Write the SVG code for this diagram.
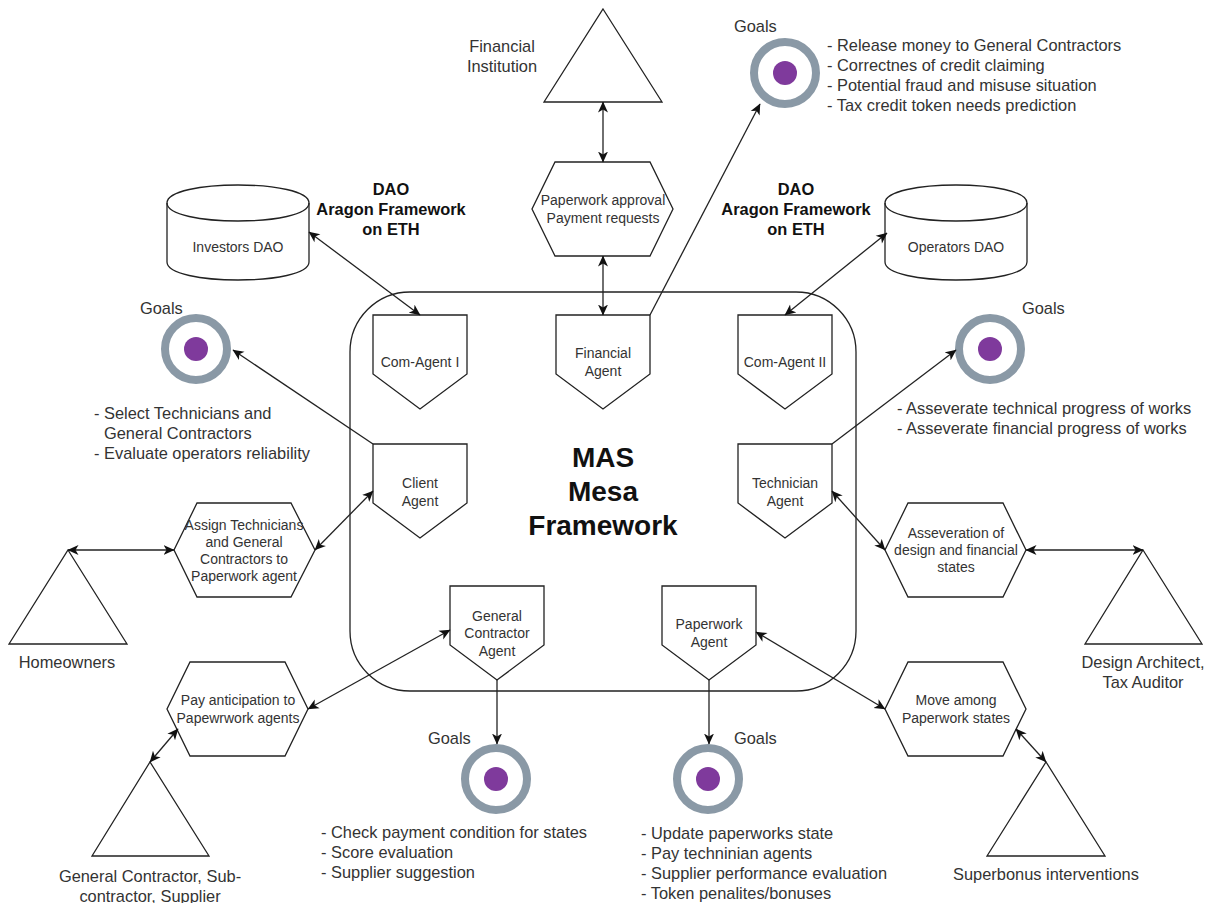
<svg xmlns="http://www.w3.org/2000/svg" width="1210" height="903" viewBox="0 0 1210 903">
<style>
text{font-family:"Liberation Sans",Arial,sans-serif;fill:#333;transform:translateY(0.6px)}
.s{font-size:14px;text-anchor:middle}
.m{font-size:16.4px}
.c{text-anchor:middle}
.b{font-size:16.4px;font-weight:bold;text-anchor:middle;fill:#111}
.t{font-size:28px;font-weight:bold;text-anchor:middle;fill:#111}
.shape{fill:#fff;stroke:#222;stroke-width:1.3}
.l{fill:none;stroke:#222;stroke-width:1.3}
.ring{fill:#fff;stroke:#8a99a6;stroke-width:8}
.dot{fill:#7f3a9c}
</style>
<defs>
<marker id="a" markerWidth="12" markerHeight="11" refX="10.5" refY="5.5" orient="auto" markerUnits="userSpaceOnUse"><path d="M0 0.5L11 5.5L0 10.5L3 5.5Z" fill="#111"/></marker>
<marker id="as" markerWidth="12" markerHeight="11" refX="0.5" refY="5.5" orient="auto" markerUnits="userSpaceOnUse"><path d="M11 0.5L0 5.5L11 10.5L8 5.5Z" fill="#111"/></marker>
</defs>
<rect id="mas-frame" class="l" x="350" y="292" width="506" height="399" rx="60"/>
<g id="n-dao1"><path class="shape" d="M167 203C167 179 309 179 309 203V262C309 286 167 286 167 262Z"/><path class="l" d="M167 203C167 227 309 227 309 203"/><text class="s" x="238" y="251">Investors DAO</text></g>
<g id="n-dao2"><path class="shape" d="M885 203C885 179 1027 179 1027 203V262C1027 286 885 286 885 262Z"/><path class="l" d="M885 203C885 227 1027 227 1027 203"/><text class="s" x="956" y="251">Operators DAO</text></g>
<g id="n-fi"><path class="shape" d="M603 9L662 102H544Z"/><text class="m c" x="502" y="51">Financial</text><text class="m c" x="502" y="71">Institution</text></g>
<g id="n-home"><path class="shape" d="M68 550L127 644H9Z"/><text class="m c" x="67" y="667">Homeowners</text></g>
<g id="n-design"><path class="shape" d="M1143 550L1202 644H1085Z"/><text class="m c" x="1143" y="667">Design Architect,</text><text class="m c" x="1143" y="687">Tax Auditor</text></g>
<g id="n-gc"><path class="shape" d="M150 762L209 856H92Z"/><text class="m c" x="150" y="881">General Contractor, Sub-</text><text class="m c" x="150" y="901">contractor, Supplier</text></g>
<g id="n-super"><path class="shape" d="M1046 762L1105 856H987Z"/><text class="m c" x="1046" y="879">Superbonus interventions</text></g>
<g id="h-pay"><path class="shape" d="M555 162H650L673 209L650 256H555L532 209Z"/><text class="s" x="603" y="204">Paperwork approval</text><text class="s" x="603" y="222">Payment requests</text></g>
<g id="h-assign"><path class="shape" d="M197 503H291L315 550L291 597H197L174 550Z"/><text class="s" x="244" y="529">Assign Technicians</text><text class="s" x="244" y="546">and General</text><text class="s" x="244" y="563">Contractors to</text><text class="s" x="244" y="580">Paperwork agent</text></g>
<g id="h-assev"><path class="shape" d="M908 503H1003L1026 550L1003 597H908L885 550Z"/><text class="s" x="956" y="537">Asseveration of</text><text class="s" x="956" y="554">design and financial</text><text class="s" x="956" y="571">states</text></g>
<g id="h-payant"><path class="shape" d="M190 662H285L308 709L285 756H190L167 709Z"/><text class="s" x="238" y="704">Pay anticipation to</text><text class="s" x="238" y="722">Papewrwork agents</text></g>
<g id="h-move"><path class="shape" d="M908 662H1003L1026 709L1003 756H908L885 709Z"/><text class="s" x="956" y="704">Move among</text><text class="s" x="956" y="722">Paperwork states</text></g>
<g id="a-com1"><path class="shape" d="M373 315H467V374L420 409L373 374Z"/><text class="s" x="420" y="366">Com-Agent I</text></g>
<g id="a-fin"><path class="shape" d="M556 315H650V374L603 409L556 374Z"/><text class="s" x="603" y="357">Financial</text><text class="s" x="603" y="375">Agent</text></g>
<g id="a-com2"><path class="shape" d="M738 315H832V374L785 409L738 374Z"/><text class="s" x="785" y="366">Com-Agent II</text></g>
<g id="a-client"><path class="shape" d="M373 444H467V503L420 538L373 503Z"/><text class="s" x="420" y="487">Client</text><text class="s" x="420" y="505">Agent</text></g>
<g id="a-tech"><path class="shape" d="M738 444H832V503L785 538L738 503Z"/><text class="s" x="785" y="487">Technician</text><text class="s" x="785" y="505">Agent</text></g>
<g id="a-gc"><path class="shape" d="M450 586H544V645L497 680L450 645Z"/><text class="s" x="497" y="620">General</text><text class="s" x="497" y="637">Contractor</text><text class="s" x="497" y="655">Agent</text></g>
<g id="a-pw"><path class="shape" d="M662 586H756V645L709 680L662 645Z"/><text class="s" x="709" y="628">Paperwork</text><text class="s" x="709" y="646">Agent</text></g>
<g id="g1"><circle class="ring" cx="785" cy="73" r="31"/><circle class="dot" cx="785" cy="73" r="12"/><text class="m" x="734" y="31">Goals</text></g>
<g id="g2"><circle class="ring" cx="196" cy="349" r="31"/><circle class="dot" cx="196" cy="349" r="12"/><text class="m" x="140" y="313">Goals</text></g>
<g id="g3"><circle class="ring" cx="990" cy="349" r="31"/><circle class="dot" cx="990" cy="349" r="12"/><text class="m" x="1022" y="313">Goals</text></g>
<g id="g4"><circle class="ring" cx="496" cy="779" r="31"/><circle class="dot" cx="496" cy="779" r="12"/><text class="m" x="428" y="743">Goals</text></g>
<g id="g5"><circle class="ring" cx="708" cy="779" r="31"/><circle class="dot" cx="708" cy="779" r="12"/><text class="m" x="734" y="743">Goals</text></g>
<g id="goal-texts">
<text class="m" x="827" y="50">- Release money to General Contractors</text>
<text class="m" x="827" y="70">- Correctnes of credit claiming</text>
<text class="m" x="827" y="90">- Potential fraud and misuse situation</text>
<text class="m" x="827" y="110">- Tax credit token needs prediction</text>
<text class="m" x="94" y="418">- Select Technicians and</text>
<text class="m" x="104" y="438">General Contractors</text>
<text class="m" x="94" y="458">- Evaluate operators reliability</text>
<text class="m" x="897" y="413">- Asseverate technical progress of works</text>
<text class="m" x="897" y="433">- Asseverate financial progress of works</text>
<text class="m" x="321" y="837">- Check payment condition for states</text>
<text class="m" x="321" y="857">- Score evaluation</text>
<text class="m" x="321" y="877">- Supplier suggestion</text>
<text class="m" x="641" y="838">- Update paperworks state</text>
<text class="m" x="641" y="858">- Pay techninian agents</text>
<text class="m" x="641" y="878">- Supplier performance evaluation</text>
<text class="m" x="641" y="898">- Token penalites/bonuses</text>
</g>
<g id="titles">
<text class="b" x="391" y="194">DAO</text><text class="b" x="391" y="214">Aragon Framework</text><text class="b" x="391" y="234">on ETH</text>
<text class="b" x="796" y="194">DAO</text><text class="b" x="796" y="214">Aragon Framework</text><text class="b" x="796" y="234">on ETH</text>
<text class="t" x="603" y="466">MAS</text><text class="t" x="603" y="500">Mesa</text><text class="t" x="603" y="534">Framework</text>
</g>
<g id="connectors" class="l">
<path marker-start="url(#as)" marker-end="url(#a)" d="M603 102V162"/>
<path marker-start="url(#as)" marker-end="url(#a)" d="M603 256V315"/>
<path marker-end="url(#a)" d="M650 315L760 104"/>
<path marker-start="url(#as)" marker-end="url(#a)" d="M309 232L420 315"/>
<path marker-start="url(#as)" marker-end="url(#a)" d="M887 233L785 315"/>
<path marker-end="url(#a)" d="M373 444L233 350"/>
<path marker-end="url(#a)" d="M832 444L956 350"/>
<path marker-start="url(#as)" marker-end="url(#a)" d="M315 550L373 491"/>
<path marker-start="url(#as)" marker-end="url(#a)" d="M68 550H174"/>
<path marker-start="url(#as)" marker-end="url(#a)" d="M832 491L885 550"/>
<path marker-start="url(#as)" marker-end="url(#a)" d="M1026 550H1143"/>
<path marker-start="url(#as)" marker-end="url(#a)" d="M308 709L450 630"/>
<path marker-start="url(#as)" marker-end="url(#a)" d="M150 762L178 729"/>
<path marker-end="url(#a)" d="M497 680V744"/>
<path marker-end="url(#a)" d="M709 680V744"/>
<path marker-start="url(#as)" marker-end="url(#a)" d="M756 632L885 709"/>
<path marker-start="url(#as)" marker-end="url(#a)" d="M1016 729L1046 762"/>
</g>
</svg>
